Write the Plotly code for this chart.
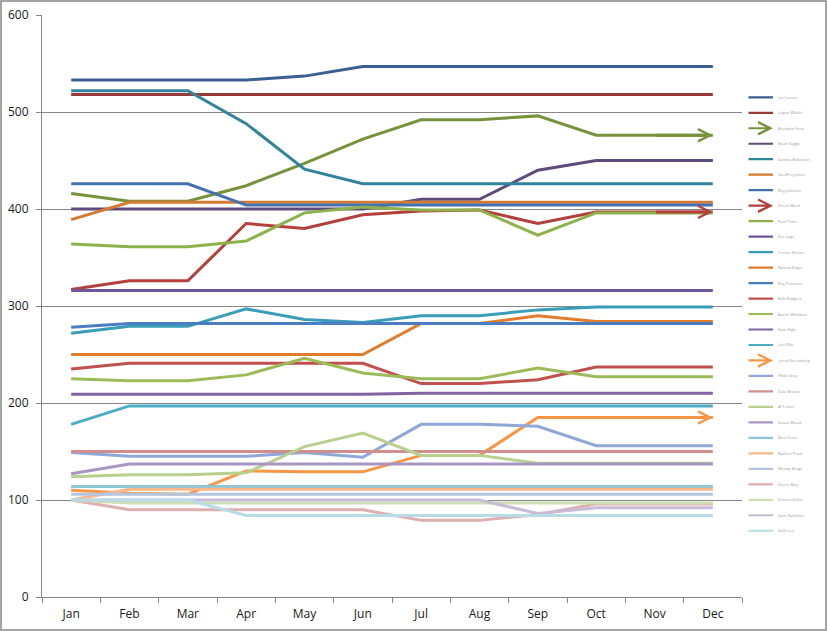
import plotly.graph_objects as go

# months on the category axis
months = ["Jan", "Feb", "Mar", "Apr", "May", "Jun", "Jul", "Aug", "Sep", "Oct", "Nov", "Dec"]

# legend names (tiny in the original, read as best as possible)
names = ["Ian Larsen", "Logan Walsh", "Brandon Hess", "Brian Suggs", "Sandra Robinson",
         "Geoffrey Jones", "Roy Johnson", "Derek Black", "Paul Potts", "Eve Lage",
         "Teresa Nelson", "Nelson Engel", "Ray Peterson", "Bob Rodgers", "Aaron Whitman",
         "Sam High", "Lou Ellis", "Jared Greenberg", "Hilda Gray", "Dale Brown",
         "Al Foster", "Susan Wood", "Noel Fenn", "Nathan Poole", "Wendy Berge",
         "Gerrie May", "Kristen Keller", "Sam Hamilton", "Seth Lee"]

series_01 = [533, 533, 533, 533, 537, 547, 547, 547, 547, 547, 547, 547]
series_02 = [518, 518, 518, 518, 518, 518, 518, 518, 518, 518, 518, 518]
series_03 = [416, 408, 408, 424, 447, 472, 492, 492, 496, 476, 476, 476]
series_04 = [400, 400, 400, 400, 400, 400, 410, 410, 440, 450, 450, 450]
series_05 = [522, 522, 522, 488, 441, 426, 426, 426, 426, 426, 426, 426]
series_06 = [389, 407, 407, 407, 407, 407, 407, 407, 407, 407, 407, 407]
series_07 = [426, 426, 426, 404, 404, 404, 404, 404, 404, 404, 404, 404]
series_08 = [317, 326, 326, 385, 380, 394, 398, 399, 385, 397, 397, 397]
series_09 = [364, 361, 361, 367, 396, 402, 399, 399, 373, 396, 396, 396]
series_10 = [316, 316, 316, 316, 316, 316, 316, 316, 316, 316, 316, 316]
series_11 = [272, 279, 279, 297, 286, 283, 290, 290, 296, 299, 299, 299]
series_12 = [250, 250, 250, 250, 250, 250, 282, 282, 290, 284, 284, 284]
series_13 = [278, 282, 282, 282, 282, 282, 282, 282, 282, 282, 282, 282]
series_14 = [235, 241, 241, 241, 241, 241, 220, 220, 224, 237, 237, 237]
series_15 = [225, 223, 223, 229, 246, 231, 225, 225, 236, 227, 227, 227]
series_16 = [209, 209, 209, 209, 209, 209, 210, 210, 210, 210, 210, 210]
series_17 = [178, 197, 197, 197, 197, 197, 197, 197, 197, 197, 197, 197]
series_18 = [110, 107, 106, 130, 129, 129, 146, 146, 185, 185, 185, 185]
series_19 = [149, 145, 145, 145, 149, 144, 178, 178, 176, 156, 156, 156]
series_20 = [150, 150, 150, 150, 150, 150, 150, 150, 150, 150, 150, 150]
series_21 = [124, 126, 126, 128, 155, 169, 146, 146, 138, 138, 138, 138]
series_22 = [127, 137, 137, 137, 137, 137, 137, 137, 137, 137, 137, 137]
series_23 = [114, 114, 114, 114, 114, 114, 114, 114, 114, 114, 114, 114]
series_24 = [100, 111, 111, 111, 111, 111, 111, 111, 111, 111, 111, 111]
series_25 = [106, 106, 106, 106, 106, 106, 106, 106, 106, 106, 106, 106]
series_26 = [100, 90, 90, 90, 90, 90, 79, 79, 85, 96, 96, 96]
series_27 = [100, 97, 97, 97, 97, 97, 97, 97, 97, 97, 97, 97]
series_28 = [100, 100, 100, 100, 100, 100, 100, 100, 86, 92, 92, 92]
series_29 = [100, 100, 100, 84, 84, 84, 84, 84, 84, 84, 84, 84]

series = [series_01, series_02, series_03, series_04, series_05, series_06, series_07,
          series_08, series_09, series_10, series_11, series_12, series_13, series_14,
          series_15, series_16, series_17, series_18, series_19, series_20, series_21,
          series_22, series_23, series_24, series_25, series_26, series_27, series_28,
          series_29]

colors = ["#3A5F91", "#973A36", "#76933C", "#5F4A7C", "#31849B", "#D57A30",
          "#4472B0", "#B3403C", "#8DB24C", "#6F569B", "#3A9DB8", "#E07C2C",
          "#4B7DC3", "#C0504D", "#9BBB59", "#8064A2", "#4BACC6", "#F79646",
          "#8FA8D8", "#D18E8E", "#B8D08E", "#A795C3", "#8CC6D6", "#F9B88A",
          "#B4C5E0", "#DDAFAE", "#CFDFB3", "#C7BBD8", "#B7DCE6"]

# series that end with an open arrow
arrow_series = [2, 7, 17]

# pixel layout of the original
W, H = 827, 631
L, R, T, B = 42, 85, 15, 34
pw, ph = W - L - R, H - T - B

grey = "#868686"

fig = go.Figure()
for i, vals in enumerate(series):
    fig.add_trace(go.Scatter(x=months, y=vals, mode="lines", name=names[i],
                             line=dict(color=colors[i], width=3), showlegend=False))

annotations = []
for i in arrow_series:
    vals = series[i]
    annotations.append(dict(x=11, y=vals[11], xref="x", yref="y",
                            ax=10, ay=vals[10], axref="x", ayref="y",
                            text="", showarrow=True, arrowhead=5, arrowsize=0.8,
                            arrowwidth=3, arrowcolor=colors[i]))

# hand-built legend (Excel-like tight spacing)
leg_top, leg_step = 97.3, 15.48
for i, nm in enumerate(names):
    ypx = leg_top + i * leg_step
    yp = (H - B - ypx) / ph
    annotations.append(dict(x=(773 - L) / pw, y=yp, xref="paper", yref="paper",
                            ax=-26, ay=0, text="", showarrow=True,
                            arrowhead=5 if i in arrow_series else 0,
                            arrowsize=1.1, arrowwidth=2.2, arrowcolor=colors[i]))
    annotations.append(dict(x=(776 - L) / pw, y=yp, xref="paper", yref="paper",
                            text=nm, showarrow=False, xanchor="left", yanchor="middle",
                            font=dict(size=4, color="#9a9a9a")))

fig.update_layout(
    width=W, height=H,
    margin=dict(l=L, r=R, t=T, b=B, autoexpand=False),
    paper_bgcolor="white", plot_bgcolor="white",
    font=dict(family="Open Sans", size=12, color="#1a1a1a"),
    annotations=annotations,
    shapes=[dict(type="rect", xref="paper", yref="paper",
                 x0=(1 - L) / pw, x1=(W - 1 - L) / pw,
                 y0=-(B - 1) / ph, y1=(H - B - 1) / ph,
                 line=dict(color=grey, width=1.5), layer="below")],
)
fig.update_xaxes(type="category", range=[-0.5, 11.5], showgrid=False, automargin=False,
                 showline=True, linecolor=grey, linewidth=1,
                 ticks="outside", tickson="boundaries", ticklen=5, tickcolor=grey,
                 tickfont=dict(size=12), ticklabelstandoff=6)
fig.update_yaxes(range=[0, 600], dtick=100, showgrid=True, gridcolor=grey, gridwidth=1,
                 showline=True, linecolor=grey, linewidth=1, zeroline=False, automargin=False,
                 ticks="outside", ticklen=5, tickcolor=grey, tickfont=dict(size=12),
                 ticklabelstandoff=5)

fig.write_html("out.html", config={"displayModeBar": False},
               post_script="document.body.style.margin='0';")
